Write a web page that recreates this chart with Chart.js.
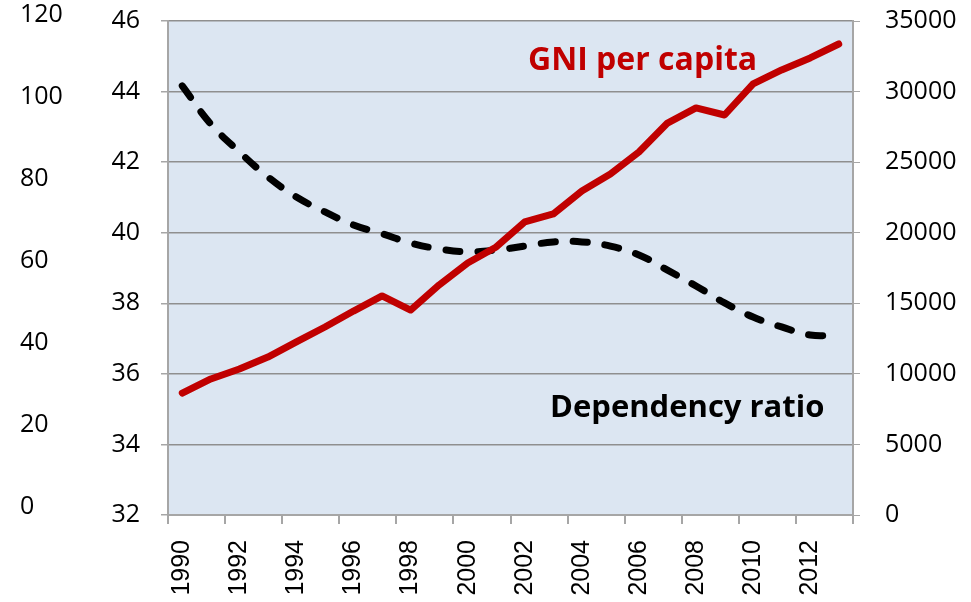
<!DOCTYPE html>
<html>
<head>
<meta charset="utf-8">
<script src="https://cdn.jsdelivr.net/npm/chart.js@4.4.1/dist/chart.umd.min.js"></script>
<style>
    body { margin: 0; background: #fff; }
    #wrap { width: 971px; height: 602px; }
</style>
</head>
<body>
<div id="wrap"><canvas id="gniChart" width="971" height="602"></canvas></div>
<script>
// data
const years = ['1990', '1991', '1992', '1993', '1994', '1995', '1996', '1997', '1998', '1999', '2000', '2001',
               '2002', '2003', '2004', '2005', '2006', '2007', '2008', '2009', '2010', '2011', '2012', '2013'];
const gniPerCapita = [8640, 9640, 10340, 11190, 12260, 13320, 14450, 15520, 14520, 16300, 17850, 18990,
                      20760, 21330, 22950, 24160, 25720, 27770, 28840, 28340, 30540, 31530, 32380, 33370];
const dependencyRatio = [44.16, 43.08, 42.29, 41.58, 41.01, 40.59, 40.22, 39.97, 39.71, 39.54, 39.46, 39.51,
                         39.62, 39.74, 39.74, 39.62, 39.37, 38.94, 38.49, 38.01, 37.61, 37.33, 37.10, 37.10];
const outerTicks = [0, 20, 40, 60, 80, 100, 120];

const gridGrey = '#8f8f8f';
const axisGrey = '#a6a6a6';

// fixed axis widths, and no extra top/bottom padding from tick labels
function fixWidth(w) {
    return s => {
        s.width = w;
        s.paddingTop = 0;
        s.paddingBottom = 0;
    };
}

// light blue plot background + the two text labels
const plotDecor = {
    id: 'plotDecor',
    beforeDraw(chart) {
        const { ctx, chartArea: a } = chart;
        ctx.save();
        ctx.fillStyle = '#dce6f2';
        ctx.fillRect(a.left, a.top, a.right - a.left, a.bottom - a.top);
        ctx.restore();
    },
    afterDatasetsDraw(chart) {
        const ctx = chart.ctx;
        ctx.save();
        ctx.textBaseline = 'alphabetic';
        ctx.textAlign = 'left';
        ctx.font = 'bold 32px "Open Sans"';
        ctx.fillStyle = '#c00000';
        ctx.fillText('GNI per capita', 528, 70);
        ctx.font = 'bold 31px "Open Sans"';
        ctx.fillStyle = '#000';
        ctx.fillText('Dependency ratio', 550, 417);
        ctx.restore();
    }
};

const ctx = document.getElementById('gniChart').getContext('2d');
new Chart(ctx, {
    type: 'line',
    data: {
        labels: years,
        datasets: [{
            label: 'GNI per capita',
            data: gniPerCapita,
            yAxisID: 'yRight',
            borderColor: '#c00000',
            borderWidth: 7,
            borderJoinStyle: 'round',
            borderCapStyle: 'round',
            pointRadius: 0,
            tension: 0
        }, {
            label: 'Dependency ratio',
            data: dependencyRatio,
            yAxisID: 'yInner',
            borderColor: '#000',
            borderWidth: 7,
            borderDash: [14, 18],
            borderCapStyle: 'round',
            borderJoinStyle: 'round',
            pointRadius: 0,
            tension: 0.4
        }]
    },
    options: {
        responsive: false,
        animation: false,
        events: [],
        layout: { padding: { left: 20, top: 21, right: 0, bottom: 0 } },
        plugins: { legend: { display: false }, tooltip: { enabled: false } },
        scales: {
            x: {
                offset: true,
                grid: {
                    offset: true,
                    drawOnChartArea: false,
                    drawTicks: true,
                    tickLength: 9,
                    lineWidth: 2,
                    color: c => (c.index === undefined || c.index % 2 === 0) ? axisGrey : 'rgba(0,0,0,0)'
                },
                border: { color: axisGrey, width: 2 },
                ticks: {
                    autoSkip: false,
                    minRotation: 90,
                    maxRotation: 90,
                    padding: 16,
                    color: '#000',
                    font: { family: '"Liberation Sans", Arial', size: 25 },
                    callback: (v, i) => i % 2 === 0 ? years[i] : ''
                },
                afterFit: s => { s.height = 87; }
            },
            yOuter: {
                position: 'left',
                weight: 1,
                min: -1.95,
                max: 118.54,
                grid: { display: false },
                border: { display: false },
                ticks: {
                    autoSkip: false,
                    crossAlign: 'far',
                    color: '#000',
                    font: { family: '"Open Sans"', size: 25 }
                },
                afterBuildTicks: s => { s.ticks = outerTicks.map(v => ({ value: v })); },
                afterFit: fixWidth(80)
            },
            yInner: {
                position: 'left',
                weight: 0,
                min: 32,
                max: 46,
                grid: {
                    color: gridGrey,
                    lineWidth: 1.5,
                    tickLength: 7,
                    tickColor: axisGrey
                },
                border: { color: axisGrey, width: 2 },
                ticks: {
                    stepSize: 2,
                    padding: 21,
                    color: '#000',
                    font: { family: '"Open Sans"', size: 25 }
                },
                afterFit: fixWidth(68)
            },
            yRight: {
                position: 'right',
                min: 0,
                max: 35000,
                grid: {
                    drawOnChartArea: false,
                    tickLength: 7,
                    color: axisGrey
                },
                border: { color: axisGrey, width: 2 },
                ticks: {
                    stepSize: 5000,
                    padding: 25,
                    color: '#000',
                    font: { family: '"Open Sans"', size: 25 },
                    callback: v => String(v)
                },
                afterFit: fixWidth(118)
            }
        }
    },
    plugins: [plotDecor]
});
</script>
</body>
</html>
